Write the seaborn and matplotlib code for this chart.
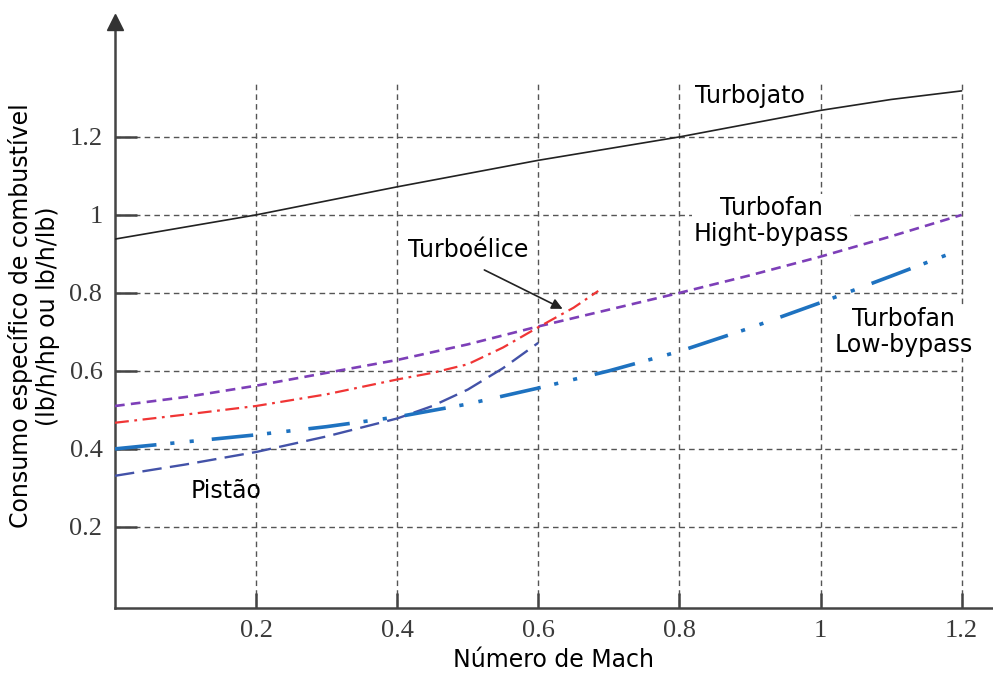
import matplotlib
matplotlib.use("Agg")
import matplotlib.pyplot as plt
import seaborn as sns
import pandas as pd

# ---- data ----
mach_jato = [0.0, 0.2, 0.4, 0.6, 0.8, 1.0, 1.1, 1.2]
sfc_jato = [0.938, 1.0, 1.072, 1.14, 1.20, 1.268, 1.296, 1.318]

mach_high = [0.0, 0.1, 0.2, 0.3, 0.4, 0.5, 0.6, 0.7, 0.8, 0.9, 1.0, 1.1, 1.2]
sfc_high = [0.51, 0.533, 0.562, 0.595, 0.628, 0.668, 0.714, 0.757, 0.80, 0.845, 0.893, 0.945, 1.0]

mach_helice = [0.0, 0.1, 0.2, 0.3, 0.4, 0.45, 0.5, 0.55, 0.6, 0.65, 0.685]
sfc_helice = [0.467, 0.488, 0.51, 0.54, 0.578, 0.595, 0.617, 0.66, 0.712, 0.762, 0.805]

mach_pistao = [0.0, 0.1, 0.2, 0.3, 0.4, 0.45, 0.5, 0.55, 0.6]
sfc_pistao = [0.331, 0.36, 0.392, 0.432, 0.478, 0.51, 0.552, 0.607, 0.672]

mach_low = [0.0, 0.1, 0.2, 0.3, 0.4, 0.5, 0.6, 0.7, 0.8, 0.9, 1.0, 1.1, 1.2]
sfc_low = [0.40, 0.418, 0.436, 0.457, 0.482, 0.515, 0.556, 0.60, 0.65, 0.71, 0.775, 0.843, 0.912]

x_ticks = [0.2, 0.4, 0.6, 0.8, 1.0, 1.2]
x_ticklabels = ["0.2", "0.4", "0.6", "0.8", "1", "1.2"]
y_ticks = [0.2, 0.4, 0.6, 0.8, 1.0, 1.2]
y_ticklabels = ["0.2", "0.4", "0.6", "0.8", "1", "1.2"]

sns.set_theme(style="white")
plt.rcParams["font.family"] = ["DejaVu Sans"]
plt.rcParams["lines.scale_dashes"] = False
plt.rcParams["text.color"] = "black"
plt.rcParams["axes.labelcolor"] = "black"

fig = plt.figure(figsize=(9.93, 6.73), dpi=100)
ax = fig.add_axes([0.1158, 0.0966, 0.8842, 0.868])

# grid (confined like the reference)
grid_kw = dict(color="#555555", lw=1.0, linestyles=(0, (4, 3)), zorder=0.5)
ax.hlines(y_ticks, 0, 1.2, **grid_kw)
ax.vlines(x_ticks, 0, 1.335, **grid_kw)

series = [
    (mach_jato, sfc_jato, "#222222", 1.2, "-"),
    (mach_high, sfc_high, "#7D3FB8", 1.9, (0, (7, 4.5))),
    (mach_helice, sfc_helice, "#F03535", 1.6, (0, (10, 4, 2, 4))),
    (mach_pistao, sfc_pistao, "#4352A8", 1.7, (0, (14, 6))),
    (mach_low, sfc_low, "#1E72C0", 2.6, (0, (30, 10, 3, 11, 3, 13))),
]
for xs, ys, col, lw, ls in series:
    df = pd.DataFrame({"mach": xs, "sfc": ys})
    sns.lineplot(data=df, x="mach", y="sfc", ax=ax, color=col, lw=lw,
                 linestyle=ls, estimator=None, sort=False, zorder=3)

ax.set_xlim(0, 1.2445)
ax.set_ylim(-0.008, 1.49)

for s in ["top", "right"]:
    ax.spines[s].set_visible(False)
for s in ["left", "bottom"]:
    ax.spines[s].set_color("#444444")
    ax.spines[s].set_linewidth(1.8)

# arrow head on y axis
ax.plot([0], [1.495], marker="^", ms=11, color="#333333", clip_on=False, zorder=5)

ax.set_xticks(x_ticks)
ax.set_xticklabels(x_ticklabels)
ax.set_yticks(y_ticks)
ax.set_yticklabels(y_ticklabels)
ax.tick_params(axis="y", direction="in", length=16, width=1.8, color="#444444",
               pad=9, labelsize=19, labelcolor="#3a3a3a", left=True)
ax.tick_params(axis="x", direction="in", length=11, width=1.8, color="#444444",
               pad=9, labelsize=19, labelcolor="#3a3a3a", bottom=True)
for lbl in ax.get_xticklabels() + ax.get_yticklabels():
    lbl.set_fontfamily("Liberation Serif")

ax.set_xlabel("Número de Mach", fontsize=17, labelpad=4, color="black")
ax.set_ylabel("Consumo específico de combustível\n(lb/h/hp ou lb/h/lb)",
              fontsize=17, labelpad=7, linespacing=1.15, color="black")

bb = dict(facecolor="white", edgecolor="none", pad=1)
tk = dict(fontsize=17, color="black", zorder=4)
ax.text(0.90, 1.286, "Turbojato", ha="center", va="baseline", bbox=bb, **tk)
ax.text(0.93, 0.985, "Turbofan\nHight-bypass", ha="center", va="center",
        multialignment="center", linespacing=1.1, bbox=bb, **tk)
ax.text(1.118, 0.70, "Turbofan\nLow-bypass", ha="center", va="center",
        multialignment="center", linespacing=1.1, bbox=bb, **tk)
ax.text(0.50, 0.892, "Turboélice", ha="center", va="baseline", **tk)
ax.text(0.157, 0.274, "Pistão", ha="center", va="baseline", **tk)

ax.annotate("", xy=(0.638, 0.756), xytext=(0.52, 0.862),
            arrowprops=dict(arrowstyle="-|>", color="#222222", lw=1.2, mutation_scale=16),
            zorder=4)

fig.savefig("out.png", dpi=100)
